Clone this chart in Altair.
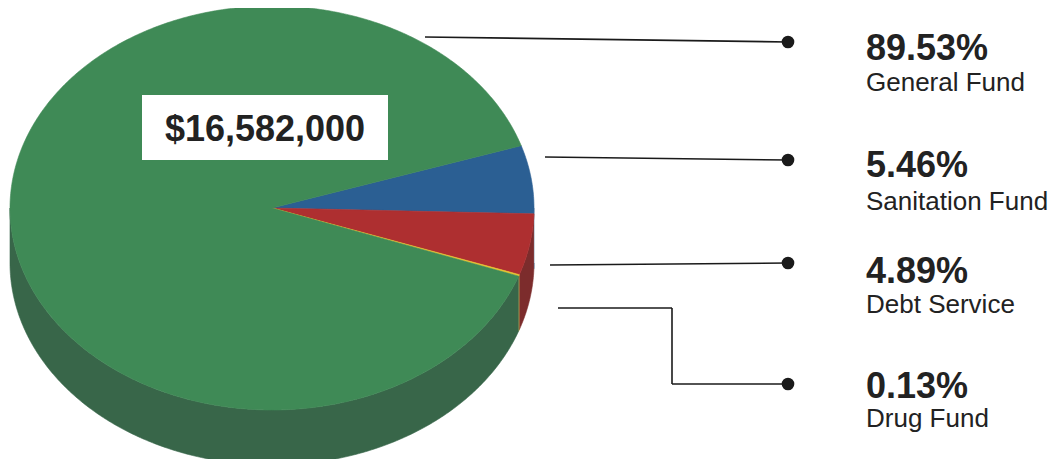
import altair as alt
import pandas as pd
import numpy as np

# ---- data ----
names = ["General Fund", "Sanitation Fund", "Debt Service", "Drug Fund"]
percents = [89.53, 5.46, 4.89, 0.13]
pct_labels = ["89.53%", "5.46%", "4.89%", "0.13%"]
total_label = "$16,582,000"

# ---- style / layout ----
top_colors = {"General Fund": "#3f8a56", "Sanitation Fund": "#2b5f93",
              "Debt Service": "#ae2f30", "Drug Fund": "#e6c430"}
side_colors = {"General Fund": "#386649", "Sanitation Fund": "#22476e",
               "Debt Service": "#7c2c2c", "Drug Fund": "#a08a22"}
CX, CY, RX, RY, DEPTH = 272, 208, 262, 202, 55
START = 18.0  # degrees, where the first clockwise slice starts
clockwise = ["Sanitation Fund", "Debt Service", "Drug Fund", "General Fund"]

pmap = dict(zip(names, percents))


def arc(a0, a1, dy=0.0):
    n = max(3, int(abs(a0 - a1) / 0.5) + 2)
    t = np.radians(np.linspace(a0, a1, n))
    return list(zip(CX + RX * np.cos(t), CY - RY * np.sin(t) + dy))


rows = []
polys = []
a = START
spans = {}
for nm in clockwise:
    span = pmap[nm] * 3.6
    spans[nm] = (a, a - span)
    a -= span

pid = 0
# sides (lower half: angle in [-180, 0])
for nm in clockwise:
    a0, a1 = spans[nm]
    lo, hi = max(a1, -180.0), min(a0, 0.0)
    if hi > lo:
        pts = arc(hi, lo) + arc(lo, hi, DEPTH)
        polys.append((pid, side_colors[nm]))
        for i, (x, y) in enumerate(pts):
            rows.append({"poly": pid, "i": i, "x": x, "y": y})
        pid += 1
# tops
for nm in clockwise:
    a0, a1 = spans[nm]
    pts = [(CX, CY)] + arc(a0, a1) + [(CX, CY)]
    polys.append((pid, top_colors[nm]))
    for i, (x, y) in enumerate(pts):
        rows.append({"poly": pid, "i": i, "x": x, "y": y})
    pid += 1

df = pd.DataFrame(rows)

xs = alt.Scale(domain=[8, 1053], nice=False, zero=False)
ys = alt.Scale(domain=[8, 459], nice=False, zero=False, reverse=True)

layers = []
for p, col in polys:
    layers.append(
        alt.Chart(df).transform_filter(alt.datum.poly == p)
        .mark_line(fill=col, stroke=col, strokeWidth=0.6)
        .encode(x=alt.X("x:Q", scale=xs, axis=None),
                y=alt.Y("y:Q", scale=ys, axis=None),
                order=alt.Order("i:Q"))
    )

# total box
box = pd.DataFrame({"x": [142], "x2": [388], "y": [95], "y2": [160],
                    "tx": [265], "ty": [141], "label": [total_label]})
layers.append(alt.Chart(box).mark_rect(fill="white").encode(
    x=alt.X("x:Q", scale=xs, axis=None), x2="x2:Q",
    y=alt.Y("y:Q", scale=ys, axis=None), y2="y2:Q"))
layers.append(alt.Chart(box).mark_text(
    font="Liberation Sans", fontWeight="bold", fontSize=36, color="#222222",
    align="center", baseline="alphabetic").encode(
    x=alt.X("tx:Q", scale=xs, axis=None), y=alt.Y("ty:Q", scale=ys, axis=None),
    text="label:N"))

# leader lines
segs = pd.DataFrame({
    "x": [425, 545, 550, 558, 672, 672],
    "y": [37, 157, 265, 308, 308, 384],
    "x2": [788, 788, 788, 672, 672, 788],
    "y2": [42, 160, 263, 308, 384, 384],
})
layers.append(alt.Chart(segs).mark_rule(color="#1a1a1a", strokeWidth=1.6).encode(
    x=alt.X("x:Q", scale=xs, axis=None), x2="x2:Q",
    y=alt.Y("y:Q", scale=ys, axis=None), y2="y2:Q"))

dots = pd.DataFrame({"x": [788] * 4, "y": [42, 160, 263, 384]})
layers.append(alt.Chart(dots).mark_circle(color="#1a1a1a", opacity=1, size=160).encode(
    x=alt.X("x:Q", scale=xs, axis=None), y=alt.Y("y:Q", scale=ys, axis=None)))

labels = pd.DataFrame({
    "pct": pct_labels, "name": names,
    "x": [866] * 4,
    "py": [60, 177, 283, 398],
    "ny": [91, 210, 313, 427],
})
layers.append(alt.Chart(labels).mark_text(
    font="Liberation Sans", fontWeight="bold", fontSize=36, color="#222222",
    align="left", baseline="alphabetic").encode(
    x=alt.X("x:Q", scale=xs, axis=None), y=alt.Y("py:Q", scale=ys, axis=None),
    text="pct:N"))
layers.append(alt.Chart(labels).mark_text(
    font="Liberation Sans", fontSize=26, color="#222222",
    align="left", baseline="alphabetic").encode(
    x=alt.X("x:Q", scale=xs, axis=None), y=alt.Y("ny:Q", scale=ys, axis=None),
    text="name:N"))

chart = alt.layer(*layers).properties(
    width=1045, height=451, padding=0, autosize="none"
).configure_view(stroke=None)

chart.save("out.html", embed_options={"renderer": "svg", "actions": False})
